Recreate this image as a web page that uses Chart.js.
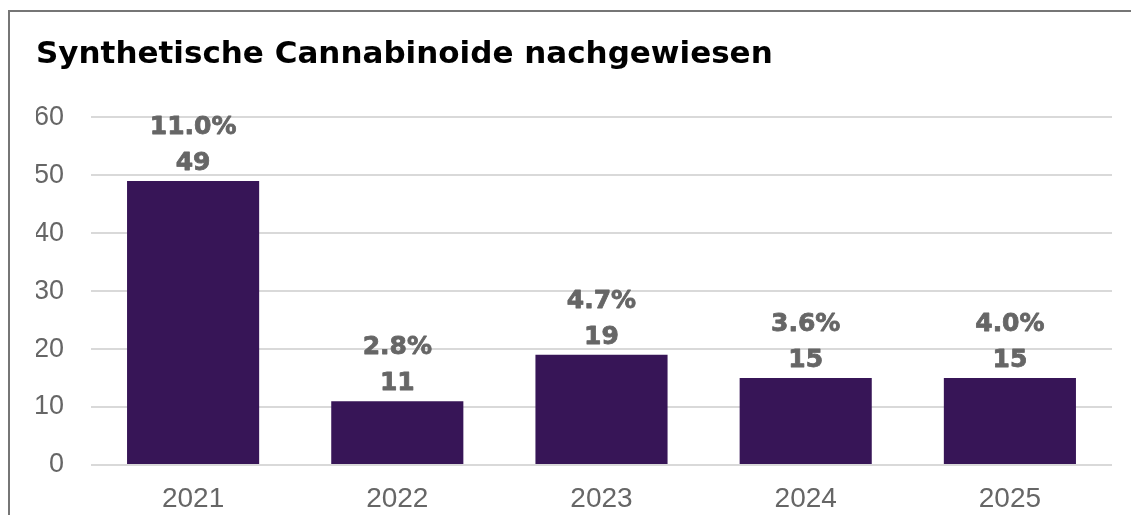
<!DOCTYPE html>
<html>
<head>
<meta charset="utf-8">
<script src="https://cdn.jsdelivr.net/npm/chart.js@4"></script>
<style>
  html, body { margin: 0; padding: 0; background: #ffffff; }
  #wrap { position: relative; width: 1131px; height: 515px; overflow: hidden; }
  #frame { position: absolute; left: 8px; top: 10px; width: 1200px; height: 600px;
           border-top: 2px solid #767676; border-left: 2px solid #767676; pointer-events: none; }
  canvas { position: absolute; left: 0; top: 0; }
</style>
</head>
<body>
<div id="wrap">
  <canvas id="c" width="1131" height="515"></canvas>
  <div id="frame"></div>
</div>
<script>
const titleText = 'Synthetische Cannabinoide nachgewiesen';
const categories = ['2021', '2022', '2023', '2024', '2025'];
const counts = [49, 11, 19, 15, 15];
const percentLabels = ['11.0%', '2.8%', '4.7%', '3.6%', '4.0%'];
const yMin = 0, yMax = 60, yStep = 10;

const barColor = '#371557';
const labelColor = '#666666';
const tickColor = '#666666';
const gridColor = '#d9d9d9';

const barLabels = {
  id: 'barLabels',
  afterDatasetsDraw(chart) {
    const ctx = chart.ctx;
    const meta = chart.getDatasetMeta(0);
    ctx.save();
    ctx.fillStyle = labelColor;
    ctx.strokeStyle = labelColor;
    ctx.lineWidth = 0.8;
    ctx.lineJoin = 'round';
    ctx.textAlign = 'center';
    ctx.textBaseline = 'alphabetic';
    ctx.font = 'bold 25px "DejaVu Sans"';
    meta.data.forEach((bar, i) => {
      ctx.fillText(String(counts[i]), bar.x, bar.y - 11);
      ctx.strokeText(String(counts[i]), bar.x, bar.y - 11);
      ctx.fillText(percentLabels[i], bar.x, bar.y - 47);
      ctx.strokeText(percentLabels[i], bar.x, bar.y - 47);
    });
    ctx.restore();
  }
};

new Chart(document.getElementById('c'), {
  type: 'bar',
  data: {
    labels: categories,
    datasets: [{
      data: counts,
      backgroundColor: barColor,
      borderWidth: 0,
      categoryPercentage: 1.0,
      barPercentage: 0.647
    }]
  },
  options: {
    responsive: false,
    animation: false,
    devicePixelRatio: 1,
    layout: { padding: { left: 36, right: 19, top: 0, bottom: 0 } },
    plugins: {
      legend: { display: false },
      tooltip: { enabled: false },
      title: {
        display: true,
        text: titleText,
        align: 'start',
        color: '#000000',
        font: { family: '"DejaVu Sans"', size: 31, weight: 'bold', lineHeight: 1.2 },
        padding: { top: 36, bottom: 44 }
      }
    },
    scales: {
      x: {
        grid: { display: false, drawTicks: false },
        border: { display: false },
        ticks: {
          color: tickColor,
          padding: 17,
          font: { family: '"Liberation Sans", Arial, sans-serif', size: 28 }
        },
        afterFit(scale) { scale.height = 50; }
      },
      y: {
        min: yMin,
        max: yMax,
        grid: { color: gridColor, lineWidth: 2, drawTicks: false },
        border: { display: false },
        ticks: {
          stepSize: yStep,
          color: tickColor,
          padding: 27,
          font: { family: '"Liberation Sans", Arial, sans-serif', size: 27 }
        },
        afterFit(scale) { scale.width = 55; }
      }
    }
  },
  plugins: [barLabels]
});
</script>
</body>
</html>
